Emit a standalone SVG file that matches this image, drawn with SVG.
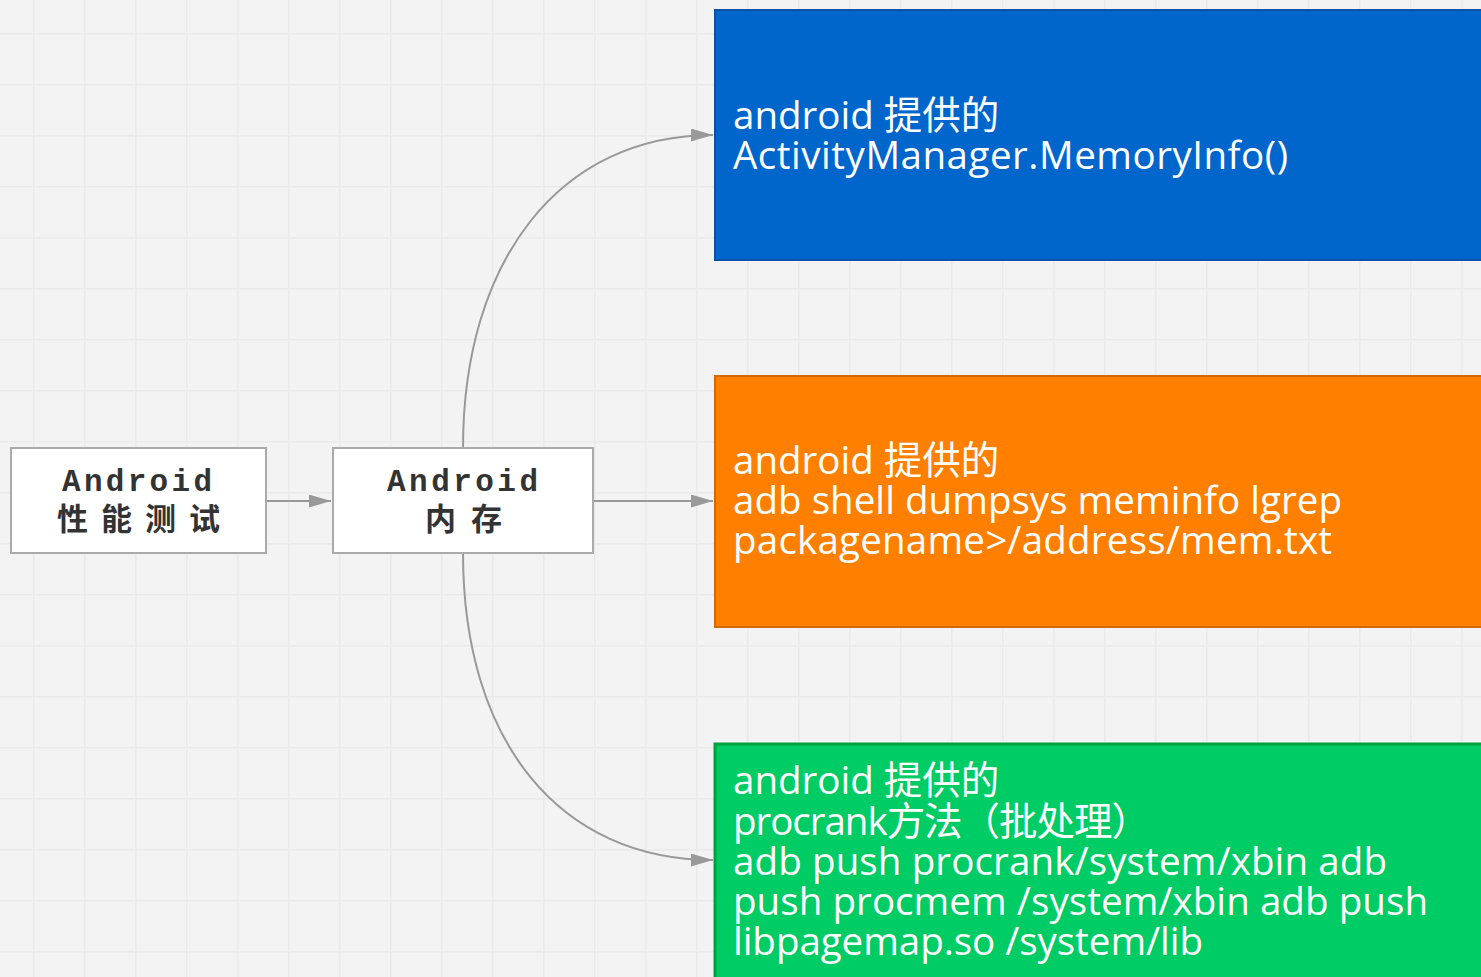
<svg xmlns="http://www.w3.org/2000/svg" width="1481" height="977" viewBox="0 0 1481 977">
<defs>
<pattern id="grid" x="33" y="33" width="51" height="51" patternUnits="userSpaceOnUse">
<rect width="51" height="51" fill="#f3f3f3"/>
<path d="M0,0 H51 M0,0 V51" stroke="#eaeaea" stroke-width="3" fill="none"/>
</pattern>
<marker id="arr" markerUnits="userSpaceOnUse" markerWidth="24" markerHeight="14" refX="22" refY="6.5" orient="auto">
<path d="M0,0 L22,6.5 L0,13 z" fill="#999"/>
</marker>
<style>
.node{fill:#fff;stroke:#aaa;stroke-width:2}
.mono{font-family:"Liberation Mono","Noto Sans CJK SC",monospace;font-weight:bold;font-size:31px;fill:#333}
.cjk{font-family:"Noto Sans CJK SC",sans-serif;font-weight:bold;font-size:31px;fill:#333}
.conn{fill:none;stroke:#999;stroke-width:2;marker-end:url(#arr)}
.box{font-family:"Open Sans","Noto Sans CJK SC",sans-serif;font-size:38.5px;fill:#fff}
</style>
</defs>
<rect width="1481" height="977" fill="url(#grid)"/>
<g id="connectors">
<path class="conn" d="M266,501 H331"/>
<path class="conn" d="M593,501 H713"/>
<path class="conn" d="M463,448 C463,260 560,135 713,135"/>
<path class="conn" d="M463,553 C463,742 560,860 713,860"/>
</g>
<g id="node-perf">
<rect class="node" x="11" y="448" width="255" height="105"/>
<text class="mono" x="62" y="491" textLength="150" lengthAdjust="spacing">Android</text>
<text class="cjk" x="57" y="530" textLength="163" lengthAdjust="spacing">性能测试</text>
</g>
<g id="node-mem">
<rect class="node" x="333" y="448" width="260" height="105"/>
<text class="mono" x="387" y="491" textLength="151" lengthAdjust="spacing">Android</text>
<text class="cjk" x="425" y="530" textLength="77" lengthAdjust="spacing">内存</text>
</g>
<g id="box-blue">
<rect x="715" y="10" width="780" height="250" fill="#0066cc" stroke="#0a52a8" stroke-width="2"/>
<text class="box" x="733" y="129">android 提供的</text>
<text class="box" x="733" y="169" textLength="555" lengthAdjust="spacing">ActivityManager.MemoryInfo()</text>
</g>
<g id="box-orange">
<rect x="715" y="376" width="780" height="251" fill="#ff8000" stroke="#d26a00" stroke-width="2"/>
<text class="box" x="733" y="474">android 提供的</text>
<text class="box" x="733" y="514" textLength="609" lengthAdjust="spacing">adb shell dumpsys meminfo lgrep</text>
<text class="box" x="733" y="554" textLength="599" lengthAdjust="spacing">packagename&gt;/address/mem.txt</text>
</g>
<g id="box-green">
<rect x="715" y="744" width="780" height="250" fill="#00cc66" stroke="#00a040" stroke-width="3"/>
<text class="box" x="733" y="794">android 提供的</text>
<text class="box" x="733" y="835" textLength="417" lengthAdjust="spacing">procrank方法（批处理）</text>
<text class="box" x="733" y="875" textLength="654" lengthAdjust="spacing">adb push procrank/system/xbin adb</text>
<text class="box" x="733" y="915" textLength="695" lengthAdjust="spacing">push procmem /system/xbin adb push</text>
<text class="box" x="733" y="955" textLength="470" lengthAdjust="spacing">libpagemap.so /system/lib</text>
</g>
</svg>
